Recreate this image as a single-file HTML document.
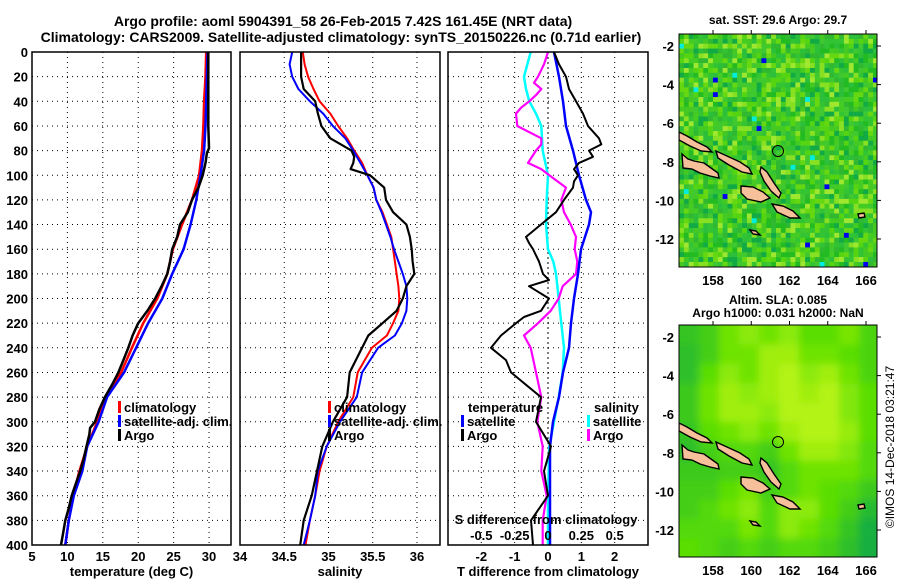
<!DOCTYPE html>
<html><head><meta charset="utf-8"><style>
html,body{margin:0;padding:0;background:#fff;}
svg{display:block;font-family:"Liberation Sans",Arial,sans-serif;font-weight:bold;}
</style></head><body>
<svg id="fig" width="900" height="580" viewBox="0 0 900 580" xmlns="http://www.w3.org/2000/svg">
<defs>
<filter id="blur" x="-5%" y="-5%" width="110%" height="110%"><feGaussianBlur stdDeviation="4"/></filter>
<clipPath id="clipTop"><rect x="679" y="34" width="198" height="233"/></clipPath>
<clipPath id="clipBot"><rect x="679" y="325" width="198" height="232"/></clipPath>
</defs>
<text x="343" y="26" text-anchor="middle" font-size="14">Argo profile: aoml 5904391_58 26-Feb-2015 7.42S 161.45E (NRT data)</text>
<text x="341" y="42" text-anchor="middle" font-size="14">Climatology: CARS2009. Satellite-adjusted climatology: synTS_20150226.nc (0.71d earlier)</text>
<g id="g1"></g>
<g id="g2"></g>
<g id="g3"></g>
<g id="m1"></g>
<g id="m2"></g>
<text transform="translate(894,447) rotate(-90)" text-anchor="middle" font-size="12" font-weight="normal">©IMOS 14-Dec-2018 03:21:47</text>
</svg>
<script>
// ---- data ----
const tDepth=[0,20,40,60,80,100,120,140,160,180,200,220,240,260,280,300,320,340,360,380,400];
const tClim=[29.6,29.5,29.3,29.2,29.0,28.6,27.6,26.2,24.9,24.1,22.7,20.7,19.1,17.6,15.5,14.2,12.8,11.7,10.8,10.2,9.7];
const tSat=[29.8,29.7,29.6,29.5,29.3,28.8,28.2,27.4,26.4,24.8,23.4,21.4,19.7,18.0,15.6,14.4,12.8,12.1,10.9,10.2,9.7];
const argoTDepth=[0,20,40,60,78,82,90,100,110,120,130,140,150,160,170,180,190,200,210,220,230,240,250,260,270,280,290,300,305,310,320,330,340,350,360,370,380,390,400];
const argoT=[29.9,29.9,29.9,29.9,30.0,29.7,29.5,29.1,28.5,27.6,27.0,25.9,25.5,24.8,24.5,24.1,23.3,22.4,21.3,20.0,19.2,18.6,17.9,17.2,16.3,15.3,14.5,13.9,13.2,13.1,12.7,12.3,11.8,11.2,10.6,10.2,9.7,9.4,9.1];
const sDepth=[0,10,20,30,40,50,60,70,80,90,100,110,120,130,140,150,160,170,180,190,200,210,220,230,240,260,280,300,320,340,360,380,400];
const sClim=[34.71,34.73,34.77,34.83,34.90,35.02,35.11,35.21,35.29,35.38,35.44,35.51,35.54,35.61,35.66,35.71,35.73,35.75,35.77,35.79,35.80,35.79,35.73,35.66,35.49,35.33,35.28,35.11,34.98,34.90,34.85,34.79,34.74];
const sSat=[34.59,34.56,34.59,34.66,34.79,34.94,35.05,35.19,35.28,35.36,35.44,35.51,35.54,35.60,35.65,35.70,35.74,35.79,35.84,35.88,35.89,35.88,35.83,35.75,35.56,35.38,35.32,35.13,34.98,34.88,34.85,34.79,34.72];
const argoSDepth=[0,10,20,30,40,50,60,70,80,85,90,95,100,110,120,130,140,150,160,170,180,190,200,210,220,230,240,260,280,300,320,340,360,380,400];
const argoS=[34.69,34.69,34.69,34.72,34.85,34.88,34.92,35.02,35.26,35.29,35.28,35.25,35.47,35.63,35.65,35.73,35.88,35.92,35.94,35.95,35.97,35.88,35.84,35.77,35.61,35.45,35.38,35.24,35.21,35.05,34.93,34.87,34.81,34.72,34.68];
const dArgoTDepth=[0,10,20,30,40,50,60,70,75,80,85,90,95,100,105,110,120,130,140,150,155,160,170,180,185,190,200,210,215,220,230,240,250,260,270,280,300,320,340,360,380,400];
const dArgoT=[0.18,0.33,0.54,0.63,0.84,1.05,1.2,1.53,1.6,1.23,1.35,0.93,0.78,0.9,0.78,0.75,0.48,0.24,-0.21,-0.66,-0.57,-0.45,-0.27,-0.15,0.03,-0.57,0.03,-0.21,-0.72,-0.96,-1.41,-1.71,-1.26,-1.11,-0.66,-0.21,-0.36,0.09,-0.12,0,-0.51,-0.45];
const dSatTDepth=[0,20,40,60,80,100,120,130,140,160,180,200,220,240,260,280,300,320,360,400];
const dSatT=[0.18,0.33,0.45,0.54,0.75,0.93,1.14,1.29,1.23,0.99,0.9,0.78,0.69,0.63,0.45,0.33,0.15,0.06,0.06,0.06];
const dSatSDepth=[0,20,30,40,50,60,80,100,120,140,160,170,180,200,220,240,260,280,300,320,360,400];
const dSatS=[-0.13,-0.18,-0.165,-0.14,-0.09,-0.05,-0.04,0,-0.01,-0.015,0,0.04,0.06,0.08,0.1,0.12,0.11,0.08,0.045,0.01,0,0];
const dArgoSDepth=[0,10,20,25,30,35,40,45,50,60,70,75,80,90,95,100,110,120,130,140,150,160,170,180,190,200,210,220,230,240,260,280,300,320,340,360,380,400];
const dArgoS=[0,-0.03,-0.075,-0.105,-0.05,-0.09,-0.14,-0.2,-0.24,-0.23,-0.05,-0.05,-0.09,-0.15,-0.05,0.01,0.135,0.1,0.12,0.17,0.21,0.2,0.22,0.21,0.11,0.08,0.02,-0.075,-0.18,-0.13,-0.09,-0.05,-0.08,-0.04,-0.05,-0.01,-0.04,-0.04];
const depthTicks=[0,20,40,60,80,100,120,140,160,180,200,220,240,260,280,300,320,340,360,380,400];
const tTicks=[5,10,15,20,25,30];
const sTicks=[34,34.5,35,35.5,36];
const dTTicks=[-2,-1,0,1,2];
const dSTicks=[-0.5,-0.25,0,0.25,0.5];
const dSTickLabels=['-0.5','-0.25','0','0.25','0.5'];
const lonTicks=[158,160,162,164,166];
const latTicks=[-2,-4,-6,-8,-10,-12];
const slaGrid=[
[.25,.35,.6,.75,.6,.75,.5,.5,.65,.4],[.2,.35,.6,.6,.85,.85,.6,.6,.5,.4],[.2,.5,.75,.6,.85,.95,.75,.85,.6,.4],
[.3,.6,.85,.75,.85,.95,.85,.95,.7,.5],[.3,.6,.85,.85,.75,.95,.95,.95,.7,.5],[.25,.5,.6,.75,.6,.85,.95,.95,.8,.5],
[.2,.35,.45,.45,.35,.6,.85,.85,.7,.45],[.3,.3,.35,.35,.25,.45,.6,.6,.6,.45],[.35,.35,.5,.65,.35,.45,.6,.5,.45,.3],
[.35,.45,.6,.75,.45,.75,.75,.5,.35,.15],[.45,.45,.45,.65,.45,.75,.6,.45,.25,.05],[.5,.45,.35,.45,.35,.45,.45,.35,.2,.05]];

// ---- helpers ----
const NS='http://www.w3.org/2000/svg';
function mk(parent,tag,attrs,txt){const e=document.createElementNS(NS,tag);for(const k in attrs)e.setAttribute(k,attrs[k]);if(txt!==undefined)e.textContent=txt;parent.appendChild(e);return e;}
const yTop=52,yBot=545;
const yD=d=>yTop+(d/400)*(yBot-yTop);
function lin(d0,d1,r0,r1){return v=>r0+(v-d0)/(d1-d0)*(r1-r0);}

function panel(g,x0,x1,xs,ticks,labels,gridTicks,leftLabels,title){
  gridTicks.forEach(t=>{const x=xs(t);
    const l=mk(g,'line',{x1:x,x2:x,y1:yTop,y2:yBot,stroke:'#000','stroke-width':1,'stroke-dasharray':'1,4'});
    
    });
  depthTicks.forEach(d=>{if(d===0||d===400)return;const y=yD(d);
    const l=mk(g,'line',{x1:x0,x2:x1,y1:y,y2:y,stroke:'#000','stroke-width':1,'stroke-dasharray':'1,4'});
    
    });
  ticks.forEach((t,i)=>{const x=xs(t);
    const tx=mk(g,'text',{x:x,y:561,'text-anchor':'middle','font-size':13},labels[i]);
    
    });
  if(leftLabels){depthTicks.forEach(d=>{
    const tx=mk(g,'text',{x:x0-4,y:yD(d)+5,'text-anchor':'end','font-size':13},String(d));
    
    });}
  const tt=mk(g,'text',{x:(x0+x1)/2,y:576,'text-anchor':'middle','font-size':13},title);
  
  
}
function frame(g,x0,x1){const r=mk(g,'rect',{x:x0,y:yTop,width:x1-x0,height:yBot-yTop,fill:'none',stroke:'#000','stroke-width':1.5});
  
  }
function series(g,xs,depths,vals,color,w,name){
  const pts=vals.map((v,i)=>xs(v).toFixed(1)+','+yD(depths[i]).toFixed(1)).join(' ');
  const p=mk(g,'polyline',{points:pts,fill:'none',stroke:color,'stroke-width':w,'stroke-linejoin':'round'});
  
  }
function legend(g,x,y,color,label,name){
  const r=mk(g,'rect',{x:x,y:y-6,width:3,height:12,fill:color});
  
  
  if(label){const t=mk(g,'text',{x:x+6,y:y+5,'font-size':13},label);
  
  }}

// Panel 1
const g1=document.getElementById('g1');
const xT=lin(5,33.1,32,231);
panel(g1,32,231,xT,tTicks,tTicks.map(String),[10,15,20,25,30],true,'temperature (deg C)');
series(g1,xT,tDepth,tClim,'#f00',2.5,'climatology-temperature-line');
series(g1,xT,tDepth,tSat,'#00f',2.5,'satellite-temperature-line');
series(g1,xT,argoTDepth,argoT,'#000',2.5,'argo-temperature-line');
frame(g1,32,231);
legend(g1,118,407,'#f00','climatology','legend-climatology');
legend(g1,118,421,'#00f','satellite-adj. clim.','legend-satellite');
legend(g1,118,435,'#000','Argo','legend-argo');

// Panel 2
const g2=document.getElementById('g2');
const xS=lin(34,36.26,240,440);
panel(g2,240,440,xS,sTicks,sTicks.map(String),[34.5,35,35.5,36],false,'salinity');
series(g2,xS,sDepth,sClim,'#f00',2,'climatology-salinity-line');
series(g2,xS,sDepth,sSat,'#00f',2,'satellite-salinity-line');
series(g2,xS,argoSDepth,argoS,'#000',2.2,'argo-salinity-line');
frame(g2,240,440);
legend(g2,328,407,'#f00','climatology','legend-climatology');
legend(g2,328,421,'#00f','satellite-adj. clim.','legend-satellite');
legend(g2,328,435,'#000','Argo','legend-argo');

// Panel 3
const g3=document.getElementById('g3');
const xDT=lin(-3,3,448,648);
const xDS=lin(-0.75,0.75,448,648);
panel(g3,448,648,xDT,dTTicks,dTTicks.map(String),dTTicks,false,'T difference from climatology');
const zl=mk(g3,'line',{x1:xDT(0),x2:xDT(0),y1:yTop,y2:yBot,stroke:'#000','stroke-width':1,'stroke-dasharray':'2,3'});


series(g3,xDS,dSatSDepth,dSatS,'#0ff',2.5,'satellite-salinity-diff-line');
series(g3,xDS,dArgoSDepth,dArgoS,'#f0f',2.2,'argo-salinity-diff-line');
series(g3,xDT,dSatTDepth,dSatT,'#00f',2.5,'satellite-temperature-diff-line');
series(g3,xDT,dArgoTDepth,dArgoT,'#000',2,'argo-temperature-diff-line');
frame(g3,448,648);
let t3=mk(g3,'text',{x:468,y:412,'font-size':13},'temperature');


legend(g3,461,421,'#00f','satellite','legend-t-satellite');
legend(g3,461,435,'#000','Argo','legend-t-argo');
t3=mk(g3,'text',{x:594,y:412,'font-size':13},'salinity');


legend(g3,587,421,'#0ff','satellite','legend-s-satellite');
legend(g3,587,435,'#f0f','Argo','legend-s-argo');
t3=mk(g3,'text',{x:546,y:524,'text-anchor':'middle','font-size':13},'S difference from climatology');


dSTicks.forEach((t,i)=>{const tx=mk(g3,'text',{x:xDS(t),y:540,'text-anchor':'middle','font-size':13},dSTickLabels[i]);
  
  });

// ---- maps ----
const lonS=lin(158,166,713,866);
function hash(i,j,s){let h=(i*374761393+j*668265263+s*1442695041)|0;h=(h^(h>>>13))*1274126177|0;return ((h^(h>>>16))>>>0)/4294967296;}
const islands=[
[[0,98],[8,102],[18,108],[28,113],[33,118],[22,117],[11,112],[0,106]],
[[37,117],[48,122],[61,128],[70,134],[73,140],[63,138],[50,131],[39,124]],
[[3,120],[9,125],[15,127],[25,129],[32,134],[39,139],[40,144],[31,142],[21,139],[13,135],[4,134]],
[[62,152],[74,153],[84,158],[91,164],[82,168],[68,165],[62,159]],
[[82,133],[88,138],[95,149],[102,159],[100,164],[92,157],[85,147],[81,138]],
[[93,170],[104,172],[114,177],[121,184],[111,184],[98,178]],
[[71,196],[77,197],[81,201],[74,200]],
[[179,180],[185,179],[186,183],[180,184]]];
function drawMap(g,top,title1,title2,kind){
  const bh=(kind==='sst')?233:232;
  const clip=kind==='sst'?'url(#clipTop)':'url(#clipBot)';
  const bg=mk(g,'g',{'clip-path':clip});
  
  
  if(kind==='sst'){
    const pal=['#22bb22','#33c433','#44cc22','#55d511','#66d811','#88e022','#11aa44','#2bbf3a','#40c830','#a0e830','#44c822','#30b830'];
    const cs=4.85;
    for(let j=0;j<48;j++)for(let i=0;i<41;i++){
      const r=hash(i,j,1);let c=pal[Math.floor(r*pal.length)];
      const r2=hash(i,j,7);if(r2<0.003)c='#0000ee';else if(r2<0.009)c='#00eedd';
      mk(bg,'rect',{x:(679+i*cs).toFixed(2),y:(top+j*cs).toFixed(2),width:cs+0.3,height:cs+0.3,fill:c});}
  }else{
    const inner=mk(bg,'g',{filter:'url(#blur)'});
    const cw=20,ch=19.4;
    const col=v=>{const a=[16,170,70],b=[90,222,0],c=[190,245,20];let p,q,t;
      if(v<0.5){p=a;q=b;t=v/0.5;}else{p=b;q=c;t=(v-0.5)/0.5;}
      return 'rgb('+p.map((x,k)=>Math.round(x+(q[k]-x)*t)).join(',')+')';};
    for(let j=-1;j<13;j++)for(let i=-1;i<11;i++){
      const jj=Math.max(0,Math.min(11,j)),ii=Math.max(0,Math.min(9,i));
      mk(inner,'rect',{x:679+i*cw,y:top+j*ch,width:cw+1,height:ch+1,fill:col(slaGrid[jj][ii])});}
  }
  islands.forEach(pts=>{const p=mk(bg,'polygon',{points:pts.map(q=>(679+q[0])+','+(top+q[1])).join(' '),fill:'#f5c09a',stroke:'#000','stroke-width':1.4});
    
    });
  const c=mk(g,'circle',{cx:679+99,cy:top+117,r:5.5,fill:'none',stroke:'#000','stroke-width':1});
  
  
  const fr=mk(g,'rect',{x:679,y:top,width:198,height:bh,fill:'none',stroke:'#000','stroke-width':1});
  
  
  const latS=lat=>top+12+(-2-lat)*19.3;
  latTicks.forEach(l=>{const y=latS(l);
    mk(g,'line',{x1:877,x2:881,y1:y,y2:y,stroke:'#000'});
    const t=mk(g,'text',{x:674,y:y+5,'text-anchor':'end','font-size':13},String(l));
    
    });
  lonTicks.forEach(l=>{const x=lonS(l);
    mk(g,'line',{x1:x,x2:x,y1:top,y2:top-4,stroke:'#000'});
    const t=mk(g,'text',{x:x,y:top+bh+18,'text-anchor':'middle','font-size':13},String(l));
    
    });
  const t1=mk(g,'text',{x:778,y:kind==='sst'?24:304,'text-anchor':'middle','font-size':12},title1);
  
  
  if(title2){const t2=mk(g,'text',{x:778,y:317,'text-anchor':'middle','font-size':12},title2);
    
    }
}
drawMap(document.getElementById('m1'),34,'sat. SST: 29.6 Argo: 29.7',null,'sst');
drawMap(document.getElementById('m2'),325,'Altim. SLA: 0.085','Argo h1000: 0.031 h2000: NaN','sla');
</script>
</body></html>
